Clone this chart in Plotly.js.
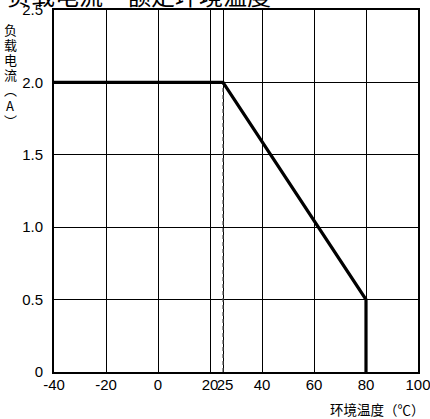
<!DOCTYPE html>
<html>
<head>
<meta charset="utf-8">
<script src="https://cdn.plot.ly/plotly-3.0.1.min.js"></script>
<style>html,body{margin:0;padding:0;background:#fff;}#chart{width:430px;height:419px;}</style>
</head>
<body>
<div id="chart"></div>
<script>
// Derating curve: load current vs ambient temperature
const curveTemp = [-40, 25, 80, 80];
const curveCurrent = [2.0, 2.0, 0.5, 0];
const dashTemp = [25, 25];
const dashCurrent = [0, 2.0];
const xTickVals = [-40, -20, 0, 20, 25, 40, 60, 80, 100];
const xTickText = ["-40", "-20", "0", "20", "\u00a025", "40", "60", "80", "100"];
const yTickVals = [0, 0.5, 1.0, 1.5, 2.0, 2.5];
const yTickText = ["0", "0.5", "1.0", "1.5", "2.0", "2.5"];
const titleText = "负载电流－额定环境温度";
const yTitleChars = ["负", "载", "电", "流", "︵", "A", "︶"];
const xTitleText = "环境温度（℃）";

const FONT = "Liberation Sans, Arial, Noto Sans CJK SC, sans-serif";
const CJK = "Noto Sans CJK SC, sans-serif";

const traces = [
  {x: dashTemp, y: dashCurrent, mode: "lines", line: {color: "#555", width: 1.2, dash: "4px,3px"}, hoverinfo: "skip"},
  {x: curveTemp, y: curveCurrent, mode: "lines", line: {color: "#000", width: 3.2}, hoverinfo: "skip"}
];

const annotations = [
  {text: titleText, xref: "paper", yref: "paper", x: 0, xshift: -49, y: 1.0, yshift: 16, xanchor: "left", yanchor: "middle",
   showarrow: false, font: {family: CJK, size: 24, color: "#000"}}
,
  {text: xTitleText, xref: "paper", yref: "paper", x: 1.0, xshift: 9, y: 0, yshift: -37, xanchor: "right", yanchor: "middle",
   showarrow: false, font: {family: CJK, size: 13.5, color: "#000"}}
];
yTitleChars.forEach((c, i) => {
  annotations.push({text: c, xref: "paper", yref: "paper", x: 0, xshift: -44, y: 1, yshift: -19 - i * 15.2,
    xanchor: "center", yanchor: "middle", showarrow: false, font: {family: CJK, size: 13, color: "#000"}});
});

const layout = {
  width: 430, height: 419,
  margin: {l: 54, r: 12, t: 10, b: 47, pad: 0},
  paper_bgcolor: "#fff", plot_bgcolor: "#fff",
  showlegend: false,
  font: {family: FONT, size: 15, color: "#000"},
  xaxis: {
    range: [-40, 100], tickmode: "array", tickvals: xTickVals, ticktext: xTickText, tickangle: 0,
    showgrid: true, gridcolor: "#000", gridwidth: 1, zeroline: false,
    showline: true, linecolor: "#000", linewidth: 2, mirror: true, ticks: "", ticklabelstandoff: -2,
    ticklabeloverflow: "allow",
    tickfont: {family: FONT, size: 15, color: "#000"}
  },
  yaxis: {
    range: [0, 2.5], tickmode: "array", tickvals: yTickVals, ticktext: yTickText,
    showgrid: true, gridcolor: "#000", gridwidth: 1, zeroline: false,
    showline: true, linecolor: "#000", linewidth: 2, mirror: true, ticks: "", ticklabelstandoff: 6,
    ticklabeloverflow: "allow",
    tickfont: {family: FONT, size: 15, color: "#000"}
  },
  annotations: annotations
};

Plotly.newPlot("chart", traces, layout, {staticPlot: true, displayModeBar: false});
</script>
</body>
</html>
